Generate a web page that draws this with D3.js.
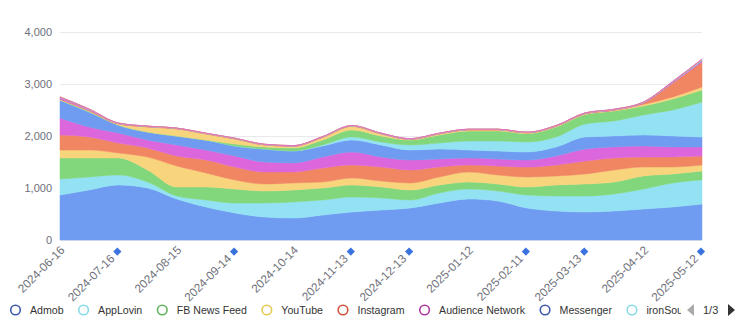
<!DOCTYPE html>
<html>
<head>
<meta charset="utf-8">
<script src="https://cdn.jsdelivr.net/npm/d3@7/dist/d3.min.js"></script>
<style>
body { margin: 0; background: #fff; }
svg { display: block; font-family: "Liberation Sans", Arial, sans-serif; }
</style>
</head>
<body>
<div id="chart"></div>
<script>
// data sampled every 15 days
var dates = ["2024-06-16", "2024-07-01", "2024-07-16", "2024-07-31", "2024-08-15", "2024-08-30",
    "2024-09-14", "2024-09-29", "2024-10-14", "2024-10-29", "2024-11-13", "2024-11-28",
    "2024-12-13", "2024-12-28", "2025-01-12", "2025-01-27", "2025-02-11", "2025-02-26",
    "2025-03-13", "2025-03-28", "2025-04-12", "2025-04-27", "2025-05-12"];

var tickDates = ["2024-06-16", "2024-07-16", "2024-08-15", "2024-09-14", "2024-10-14", "2024-11-13",
    "2024-12-13", "2025-01-12", "2025-02-11", "2025-03-13", "2025-04-12", "2025-05-12"];

var markedDates = ["2024-07-16", "2024-09-14", "2024-11-13", "2024-12-13", "2025-02-11", "2025-03-13", "2025-05-12"];

var yTicks = [0, 1000, 2000, 3000, 4000];

var seriesNames = ["Admob", "AppLovin", "FB News Feed", "YouTube", "Instagram", "Audience Network",
    "Messenger", "ironSource", "Pangle", "Unity Ads", "Mintegral", "Liftoff", "Chartboost",
    "InMobi", "Vungle", "DT Exchange", "Yandex", "Moloco"];

var admob      = [865, 962, 1058, 1000, 788, 635, 519, 442, 423, 481, 538, 577, 615, 712, 788, 750, 615, 558, 538, 558, 596, 635, 692];
var appLovin   = [308, 250, 192, 115, 58, 135, 192, 269, 308, 288, 288, 231, 154, 192, 192, 192, 250, 288, 308, 327, 385, 462, 462];
var fbNewsFeed = [404, 365, 327, 231, 173, 250, 269, 231, 231, 231, 231, 212, 192, 154, 135, 135, 154, 212, 231, 231, 250, 173, 173];
var youTube    = [154, 154, 96, 250, 404, 269, 173, 135, 135, 115, 135, 115, 135, 154, 192, 173, 192, 173, 192, 231, 173, 135, 115];
var instagram  = [288, 250, 192, 173, 192, 250, 250, 231, 212, 269, 250, 269, 250, 192, 135, 173, 192, 212, 250, 231, 192, 192, 173];
var audience   = [327, 192, 192, 154, 212, 192, 212, 192, 173, 212, 250, 192, 192, 154, 135, 135, 135, 173, 231, 212, 212, 192, 173];
var messenger  = [346, 288, 154, 154, 173, 192, 192, 250, 231, 212, 231, 231, 192, 192, 154, 154, 154, 173, 231, 212, 212, 212, 192];
var ironSource = [0, 0, 0, 0, 0, 0, 0, 0, 0, 19, 58, 58, 96, 115, 173, 192, 192, 192, 250, 288, 385, 500, 673];
var pangle     = [0, 10, 0, 0, 0, 0, 38, 38, 58, 96, 135, 115, 96, 154, 192, 192, 163, 192, 183, 192, 173, 212, 231];
var unityAds   = [10, 10, 19, 96, 135, 115, 96, 38, 29, 48, 67, 38, 10, 19, 19, 19, 10, 10, 10, 10, 29, 38, 58];
var mintegral  = [8, 8, 6, 5, 5, 5, 5, 5, 5, 5, 5, 5, 5, 5, 5, 5, 5, 6, 6, 8, 29, 269, 481];
var liftoff    = [30, 20, 8, 6, 6, 5, 5, 5, 5, 6, 6, 5, 5, 5, 5, 5, 5, 6, 8, 8, 10, 15, 25];
var chartboost = [4, 3, 2, 2, 2, 2, 2, 2, 2, 2, 3, 3, 2, 2, 2, 2, 2, 2, 3, 3, 3, 5, 10];
var inMobi     = [2, 2, 1, 1, 1, 1, 1, 1, 1, 1, 1, 1, 1, 1, 1, 1, 1, 1, 1, 1, 2, 3, 8];
var vungle     = [2, 2, 1, 1, 1, 1, 1, 1, 1, 1, 1, 1, 1, 1, 1, 1, 1, 1, 1, 1, 2, 3, 6];
var dtExchange = [1, 1, 1, 1, 1, 1, 1, 1, 1, 1, 1, 1, 1, 1, 1, 1, 1, 1, 1, 1, 1, 2, 4];
var yandex     = [1, 1, 1, 1, 1, 1, 1, 1, 1, 1, 1, 1, 1, 1, 1, 1, 1, 1, 1, 1, 1, 2, 3];
var moloco     = [1, 1, 1, 1, 1, 1, 1, 1, 1, 1, 1, 1, 1, 1, 1, 1, 1, 1, 1, 1, 1, 1, 2];

var seriesValues = [admob, appLovin, fbNewsFeed, youTube, instagram, audience, messenger, ironSource,
    pangle, unityAds, mintegral, liftoff, chartboost, inMobi, vungle, dtExchange, yandex, moloco];

var fillColors = ["#6f9cf1", "#93e2f4", "#82d67b", "#f8d47d", "#f08662", "#dc66dc"];
var ringColors = ["#3e5aaa", "#88dbe6", "#5fb45c", "#e6ca55", "#d4523b", "#b0389f"];

var svg = d3.select('#chart')
    .append('svg')
    .attr('width', 740)
    .attr('height', 321);

var margin = {
        top: 32,
        right: 38,
        bottom: 81,
        left: 60
};

var width = +svg.attr("width") - margin.left - margin.right;
var height = +svg.attr("height") - margin.top - margin.bottom;
var g = svg.append("g").attr("transform", "translate(" + margin.left + "," + margin.top + ")");

var parseTime = d3.timeParse("%Y-%m-%d");
var formatTime = d3.timeFormat("%Y-%m-%d");

var rows = dates.map(function (d, i) {
    var row = { date: parseTime(d) };
    seriesNames.forEach(function (name, k) { row[name] = seriesValues[k][i]; });
    return row;
});

var x = d3.scaleTime()
    .domain(d3.extent(rows, function (d) { return d.date; }))
    .range([0, width]);
var y = d3.scaleLinear()
    .domain([0, 4000])
    .range([height, 0]);

// grid + y labels
var yAxis = g.append("g")
    .call(d3.axisLeft(y).tickValues(yTicks).tickSize(-width).tickPadding(8).tickFormat(d3.format(",")));
yAxis.select(".domain").remove();
yAxis.selectAll("line").attr("stroke", "#e9e9ec");
yAxis.selectAll("text").attr("fill", "#6e7079").style("font-size", "11px");

// stacked areas
var stacked = d3.stack().keys(seriesNames)(rows);
var area = d3.area()
    .x(function (d) { return x(d.data.date); })
    .y0(function (d) { return y(d[0]); })
    .y1(function (d) { return y(d[1]); })
    .curve(d3.curveMonotoneX);

g.selectAll(".layer")
    .data(stacked)
    .enter().append("path")
    .attr("class", "layer")
    .attr("fill", function (d, i) { return fillColors[i % 6]; })
    .attr("stroke", function (d, i) { return fillColors[i % 6]; })
    .attr("stroke-width", 0.5)
    .attr("d", area);

// x axis labels, rotated, with diamond marks on some dates
var xAxis = g.append("g")
    .attr("transform", "translate(0," + height + ")")
    .call(d3.axisBottom(x).tickValues(tickDates.map(parseTime)).tickSize(0).tickFormat(formatTime));
xAxis.select(".domain").remove();

xAxis.selectAll(".tick").each(function (d) {
    var tick = d3.select(this);
    var marked = markedDates.indexOf(formatTime(d)) >= 0;
    tick.select("text")
        .attr("x", marked ? -12 : 0)
        .attr("y", 0)
        .attr("dy", "0.35em")
        .attr("text-anchor", "end")
        .attr("transform", "translate(2,8) rotate(-45)")
        .attr("fill", "#6e7079")
        .style("font-size", "11.8px");
    if (marked) {
        tick.append("rect")
            .attr("transform", "translate(2,8) rotate(-45)")
            .attr("x", -5 - 2.9)
            .attr("y", -2.9)
            .attr("width", 5.8)
            .attr("height", 5.8)
            .attr("fill", "#3a72e0");
    }
});

// legend (first page)
svg.append("clipPath").attr("id", "legendClip")
    .append("rect").attr("x", 0).attr("y", 290).attr("width", 681).attr("height", 31);

var legend = svg.append("g").attr("clip-path", "url(#legendClip)");
var legendY = 310;
var cursor = 10;
for (var i = 0; i < seriesNames.length && cursor < 690; i++) {
    legend.append("circle")
        .attr("cx", cursor + 5.5)
        .attr("cy", legendY)
        .attr("r", 4.8)
        .attr("fill", "#fff")
        .attr("stroke", ringColors[i % 6])
        .attr("stroke-width", 1.6);
    var label = legend.append("text")
        .attr("x", cursor + 20)
        .attr("y", legendY)
        .attr("dy", "0.36em")
        .attr("fill", "#333")
        .style("font-size", "10.6px")
        .text(seriesNames[i]);
    cursor += 20 + label.node().getComputedTextLength() + 14.5;
}

// legend pager
var pages = Math.ceil(seriesNames.length / 8);
svg.append("path")
    .attr("d", "M694,304L687,310L694,316Z")
    .attr("fill", "#aaa");
svg.append("text")
    .attr("x", 703)
    .attr("y", legendY)
    .attr("dy", "0.36em")
    .attr("fill", "#333")
    .style("font-size", "11px")
    .text("1/" + pages);
svg.append("path")
    .attr("d", "M728,304L735,310L728,316Z")
    .attr("fill", "#333");
</script>
</body>
</html>
